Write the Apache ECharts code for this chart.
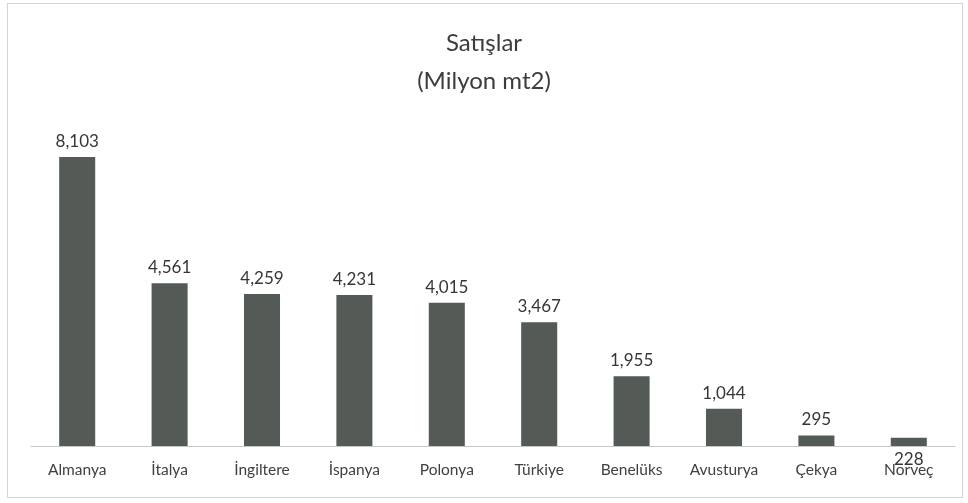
<!DOCTYPE html>
<html>
<head>
<meta charset="utf-8">
<script src="https://cdn.jsdelivr.net/npm/echarts@6/dist/echarts.min.js"></script>
<style>
  html, body { margin: 0; padding: 0; background: #fff; }
  #frame { position: absolute; left: 7px; top: 3px; width: 954px; height: 493px; border: 1px solid #d4d4d4; }
  #chart { width: 968px; height: 503px; }
</style>
</head>
<body>
<div id="frame"></div>
<div id="chart"></div>
<script>
// veriler
var ulkeler = ['Almanya', 'İtalya', 'İngiltere', 'İspanya', 'Polonya', 'Türkiye', 'Benelüks', 'Avusturya', 'Çekya', 'Norveç'];
var satislar = [8103, 4561, 4259, 4231, 4015, 3467, 1955, 1044, 295, 228];

var chart = echarts.init(document.getElementById('chart'));

var seriesData = satislar.map(function (v, i) {
  // Norveç etiketi orijinalde eksen altına düşmüş
  if (i === satislar.length - 1) {
    return { value: v, label: { position: 'bottom', distance: 5 } };
  }
  return v;
});

var option = {
  textStyle: { fontFamily: 'Lato, "Open Sans", sans-serif' },
  title: {
    text: 'Satışlar\n(Milyon mt2)',
    left: 'center',
    top: 19,
    textStyle: {
      fontSize: 24,
      fontWeight: 'normal',
      color: '#3c3c3c',
      lineHeight: 38,
      fontFamily: 'Lato, "Open Sans", sans-serif'
    }
  },
  grid: { left: 31, right: 13, top: 157, bottom: 57 },
  xAxis: {
    type: 'category',
    data: ulkeler,
    axisLine: { lineStyle: { color: '#c8c8c8', width: 1 } },
    axisTick: { show: false },
    axisLabel: { color: '#404040', fontSize: 15.5, margin: 16 }
  },
  yAxis: {
    type: 'value',
    min: 0,
    max: 8103,
    show: false,
    splitLine: { show: false }
  },
  series: [{
    type: 'bar',
    data: seriesData,
    barWidth: '39%',
    itemStyle: { color: '#545b57' },
    label: {
      show: true,
      position: 'top',
      distance: 7,
      color: '#363636',
      fontSize: 17,
      formatter: function (p) { return p.value.toLocaleString('en-US'); }
    }
  }]
};

chart.setOption(option);
</script>
</body>
</html>
